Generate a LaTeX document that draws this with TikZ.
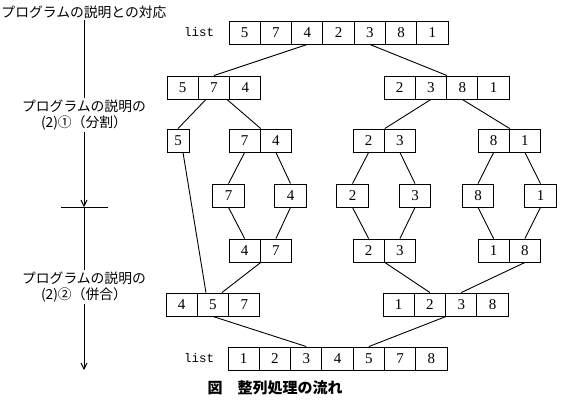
\documentclass[tikz,border=0pt]{standalone}
\usepackage{fontspec}
\setmainfont{Liberation Serif}
\setmonofont{Liberation Mono}
\newfontfamily\jp{Noto Sans CJK JP}
\usetikzlibrary{positioning,arrows.meta}

\begin{document}
\begin{tikzpicture}[x=1pt,y=-1pt,line width=0.9pt,
        cell/.style={draw,minimum width=31.3pt,minimum height=23pt,inner sep=0pt,font=\fontsize{15}{15}\selectfont},
        lbl/.style={inner sep=0pt,font=\ttfamily\fontsize{12.5}{12.5}\selectfont},
        note/.style={inner sep=1.5pt,align=center,font=\jp\fontsize{13.8}{16.5}\selectfont},
        flow/.style={-{Straight Barb[length=6pt,width=6pt]}}]
        \useasboundingbox (0,0) rectangle (562,400);
        % left column: correspondence to the program description
        \node[note] (head) at (84,12) {プログラムの説明との対応};
        \node[note] (split) at (84,115) {プログラムの説明の\\(2)①（分割）};
        \node[note] (merge) at (84,287) {プログラムの説明の\\(2)②（併合）};
        \coordinate (mark) at (84,207);
        \coordinate (stop) at (84,370);
        \draw (head.south) -- (split.north);
        \draw[flow] (split.south) -- (mark);
        \draw ([xshift=-23pt]mark) -- ([xshift=24pt]mark);
        \draw (mark) -- (merge.north);
        \draw[flow] (merge.south) -- (stop);
        % top list
        \foreach \v [count=\i] in {5,7,4,2,3,8,1}
            \node[cell] (top\i) at ({229+31.3*(\i-0.5)},32.5) {\v};
        \node[lbl,left=14pt of top1] (toplist) {list};
        % split
        \foreach \v [count=\i] in {5,7,4}
            \node[cell] (a\i) at ({167+31.3*(\i-0.5)},87.5) {\v};
        \foreach \v [count=\i] in {2,3,8,1}
            \node[cell] (b\i) at ({384+31.3*(\i-0.5)},87.5) {\v};
        \node[cell,minimum width=22pt] (s) at (178,140.5) {5};
        \foreach \v [count=\i] in {7,4}
            \node[cell] (c\i) at ({229+31.3*(\i-0.5)},140.5) {\v};
        \foreach \v [count=\i] in {2,3}
            \node[cell] (d\i) at ({353+31.3*(\i-0.5)},140.5) {\v};
        \foreach \v [count=\i] in {8,1}
            \node[cell] (e\i) at ({478+31.3*(\i-0.5)},140.5) {\v};
        % single elements
        \node[cell] (f1) at (228.5,195.5) {7};
        \node[cell] (f2) at (290.5,195.5) {4};
        \node[cell] (f3) at (352.5,195.5) {2};
        \node[cell] (f4) at (415,195.5) {3};
        \node[cell] (f5) at (478,195.5) {8};
        \node[cell] (f6) at (540.5,195.5) {1};
        % merge
        \foreach \v [count=\i] in {4,7}
            \node[cell] (g\i) at ({229+31.3*(\i-0.5)},250.5) {\v};
        \foreach \v [count=\i] in {2,3}
            \node[cell] (h\i) at ({353+31.3*(\i-0.5)},250.5) {\v};
        \foreach \v [count=\i] in {1,8}
            \node[cell] (i\i) at ({478+31.3*(\i-0.5)},250.5) {\v};
        \foreach \v [count=\i] in {4,5,7}
            \node[cell] (j\i) at ({166+31.3*(\i-0.5)},304.5) {\v};
        \foreach \v [count=\i] in {1,2,3,8}
            \node[cell] (k\i) at ({383+31.3*(\i-0.5)},304.5) {\v};
        % bottom list
        \foreach \v [count=\i] in {1,2,3,4,5,7,8}
            \node[cell] (m\i) at ({228+31.3*(\i-0.5)},358.5) {\v};
        \node[lbl,left=13pt of m1] (botlist) {list};
        \node[inner sep=0pt,font=\jp\bfseries\fontsize{15}{15}\selectfont] (cap) at (275,388) {図　整列処理の流れ};
        % connectors
        \draw (top3.south) -- (a2.north);
        \draw (top5.south) -- (b2.north east);
        \draw ([xshift=-8pt]a2.south) -- (s.north);
        \draw ([xshift=13pt]a2.south) -- (c1.north east);
        \draw (b2.south) -- (d1.north east);
        \draw (b3.south) -- (e1.north east);
        \draw (c1.south) -- (f1.north);
        \draw (c2.south) -- (f2.north);
        \draw (d1.south) -- (f3.north);
        \draw (d2.south) -- (f4.north);
        \draw (e1.south) -- (f5.north);
        \draw (e2.south) -- (f6.north);
        \draw (f1.south) -- (g1.north);
        \draw (f2.south) -- (g2.north);
        \draw (f3.south) -- (h1.north);
        \draw (f4.south) -- (h2.north);
        \draw (f5.south) -- (i1.north);
        \draw (f6.south) -- (i2.north);
        \draw ([xshift=5pt]s.south) -- ([xshift=-7pt]j2.north);
        \draw (g1.south east) -- ([xshift=9pt]j2.north);
        \draw (h1.south east) -- (k2.north);
        \draw (i2.south) -- (k3.north);
        \draw (j2.south) -- (m3.north);
        \draw (k2.south east) -- (m5.north);
\end{tikzpicture}
\end{document}
